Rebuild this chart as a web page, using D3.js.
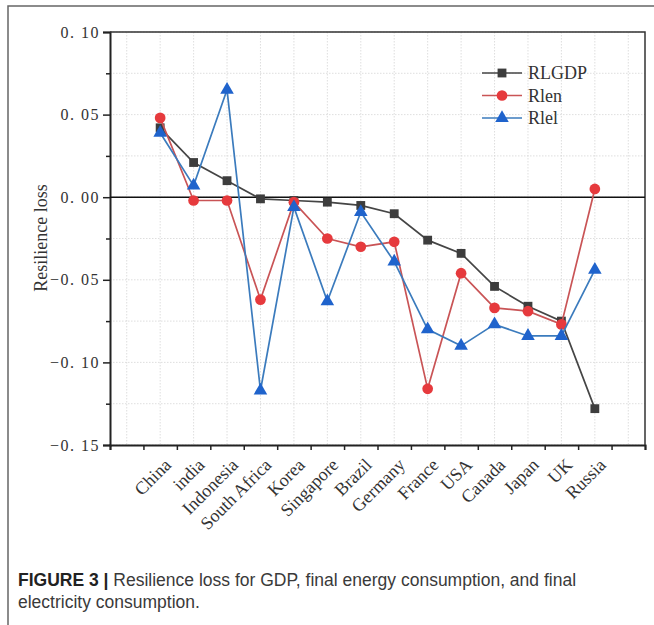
<!DOCTYPE html>
<html lang="en">
  <head>
    <meta charset="utf-8">
    <title>Resilience loss</title>
    <script src="https://cdn.jsdelivr.net/npm/d3@7"></script>
    <style>
      body { margin: 0; background: #fff; }
      svg { display: block; }
    </style>
  </head>
  <body>
    <div id="main"></div>

  <script type="text/javascript">

      // values
      const countries = ["China", "india", "Indonesia", "South Africa", "Korea", "Singapore", "Brazil",
                         "Germany", "France", "USA", "Canada", "Japan", "UK", "Russia"];
      const rlgdp = [0.042, 0.021, 0.010, -0.001, -0.002, -0.003, -0.005, -0.010, -0.026, -0.034, -0.054, -0.066, -0.075, -0.128];
      const rlen  = [0.048, -0.002, -0.002, -0.062, -0.003, -0.025, -0.030, -0.027, -0.116, -0.046, -0.067, -0.069, -0.077, 0.005];
      const rlel  = [0.039, 0.007, 0.065, -0.117, -0.006, -0.063, -0.009, -0.039, -0.080, -0.090, -0.077, -0.084, -0.084, -0.044];
      const yMajor = [-0.15, -0.10, -0.05, 0.00, 0.05, 0.10];
      const yMinor = [-0.125, -0.075, -0.025, 0.025, 0.075];
      const seriesNames = ["RLGDP", "Rlen", "Rlel"];

      const W = 654, H = 625;
      const pLeft = 110, pRight = 645, pTop = 32, pBottom = 445;
      const serif = "'Liberation Serif', 'Times New Roman', serif";
      const sans = "'Liberation Sans', Arial, sans-serif";

      const svg = d3.select("#main").append("svg")
        .attr("width", W)
        .attr("height", H);

      svg.append("rect").attr("width", W).attr("height", H).attr("fill", "#fff");

      // frame of the figure page
      svg.append("path")
        .attr("d", `M8,${H + 2} L8,6 L${W},6`)
        .attr("fill", "none")
        .attr("stroke", "#666")
        .attr("stroke-width", 1.5);

      const x = d3.scaleLinear().domain([-0.5, countries.length + 1.5]).range([pLeft, pRight]);
      const y = d3.scaleLinear().domain([-0.15, 0.10]).range([pBottom, pTop]);

      // dotted grid
      const grid = svg.append("g").attr("stroke", "#d6d6d6").attr("stroke-width", 0.8)
        .attr("stroke-dasharray", "1.5,1.5");
      grid.selectAll("line.v")
        .data(d3.range(0, countries.length + 2))
        .enter().append("line")
        .attr("x1", d => x(d)).attr("x2", d => x(d))
        .attr("y1", pTop).attr("y2", pBottom);
      grid.selectAll("line.h")
        .data(yMajor.concat(yMinor))
        .enter().append("line")
        .attr("x1", pLeft).attr("x2", pRight)
        .attr("y1", d => y(d)).attr("y2", d => y(d));

      // axes
      const fmt = v => (v < 0 ? "\u22120" : "0") + ". " + Math.abs(v).toFixed(2).split(".")[1];

      const yAxis = svg.append("g")
        .attr("transform", `translate(${pLeft},0)`)
        .call(d3.axisLeft(y).tickValues(yMajor).tickFormat(fmt).tickSize(7).tickPadding(3));
      svg.append("g")
        .attr("transform", `translate(${pLeft},0)`)
        .call(d3.axisLeft(y).tickValues(yMinor).tickFormat("").tickSize(4))
        .call(g => g.select(".domain").remove());
      yAxis.selectAll("text")
        .attr("font-family", serif)
        .attr("font-size", "16px")
        .attr("letter-spacing", "1.5px")
        .attr("fill", "#333");

      svg.append("g")
        .attr("transform", `translate(0,${pBottom})`)
        .call(d3.axisBottom(x).tickValues(d3.range(0, countries.length + 3).map(k => k - 0.5)).tickFormat("").tickSize(5));

      svg.selectAll(".domain").attr("stroke", "#222").attr("stroke-width", 2);
      svg.selectAll(".tick line").attr("stroke", "#222").attr("stroke-width", 1.5);

      // top and right border
      svg.append("path")
        .attr("d", `M${pLeft},${pTop} L${pRight},${pTop} L${pRight},${pBottom}`)
        .attr("fill", "none")
        .attr("stroke", "#333")
        .attr("stroke-width", 1.5);

      // zero line
      svg.append("line")
        .attr("x1", pLeft).attr("x2", pRight)
        .attr("y1", y(0)).attr("y2", y(0))
        .attr("stroke", "#111")
        .attr("stroke-width", 1.4);

      // category labels
      svg.selectAll("text.cat")
        .data(countries)
        .enter().append("text")
        .attr("class", "cat")
        .attr("transform", (d, i) => `translate(${x(i + 1) + 12},${pBottom + 21}) rotate(-45)`)
        .attr("text-anchor", "end")
        .attr("font-family", serif)
        .attr("font-size", "18px")
        .attr("fill", "#333")
        .text(d => d);

      // y label
      svg.append("text")
        .attr("transform", `translate(47,238) rotate(-90)`)
        .attr("text-anchor", "middle")
        .attr("font-family", serif)
        .attr("font-size", "18px")
        .attr("fill", "#333")
        .text("Resilience loss");

      // series
      const series = [
        { name: seriesNames[0], values: rlgdp, line: "#454545", fill: "#3d3d3d", shape: d3.symbolSquare, size: 78 },
        { name: seriesNames[1], values: rlen,  line: "#c95456", fill: "#e63a3d", shape: d3.symbolCircle, size: 90 },
        { name: seriesNames[2], values: rlel,  line: "#3b7bbd", fill: "#1f63cc", shape: d3.symbolTriangle, size: 80 }
      ];

      const line = d3.line().x((d, i) => x(i + 1)).y(d => y(d));

      series.forEach(s => {
        const g = svg.append("g");
        g.append("path")
          .attr("d", line(s.values))
          .attr("fill", "none")
          .attr("stroke", s.line)
          .attr("stroke-width", 1.7);
        g.selectAll("path.m")
          .data(s.values)
          .enter().append("path")
          .attr("transform", (d, i) => `translate(${x(i + 1)},${y(d)})`)
          .attr("d", d3.symbol().type(s.shape).size(s.size))
          .attr("fill", s.fill);
      });

      // legend
      const legend = svg.append("g");
      series.forEach((s, i) => {
        const ly = 73 + i * 22.5;
        legend.append("line")
          .attr("x1", 482).attr("x2", 522)
          .attr("y1", ly).attr("y2", ly)
          .attr("stroke", s.line).attr("stroke-width", 1.7);
        legend.append("path")
          .attr("transform", `translate(502,${ly})`)
          .attr("d", d3.symbol().type(s.shape).size(s.size))
          .attr("fill", s.fill);
        legend.append("text")
          .attr("x", 528).attr("y", ly + 6)
          .attr("font-family", serif)
          .attr("font-size", "18px")
          .attr("fill", "#333")
          .text(s.name);
      });

      // caption
      const cap = svg.append("text")
        .attr("x", 18).attr("y", 586)
        .attr("font-family", sans)
        .attr("font-size", "17.5px")
        .attr("fill", "#3a3a3a");
      cap.append("tspan").attr("font-weight", "bold").attr("fill", "#222").text("FIGURE 3 | ");
      cap.append("tspan").text("Resilience loss for GDP, final energy consumption, and final");
      svg.append("text")
        .attr("x", 18).attr("y", 608)
        .attr("font-family", sans)
        .attr("font-size", "17.5px")
        .attr("fill", "#3a3a3a")
        .text("electricity consumption.");

  </script>
  </body>
</html>
